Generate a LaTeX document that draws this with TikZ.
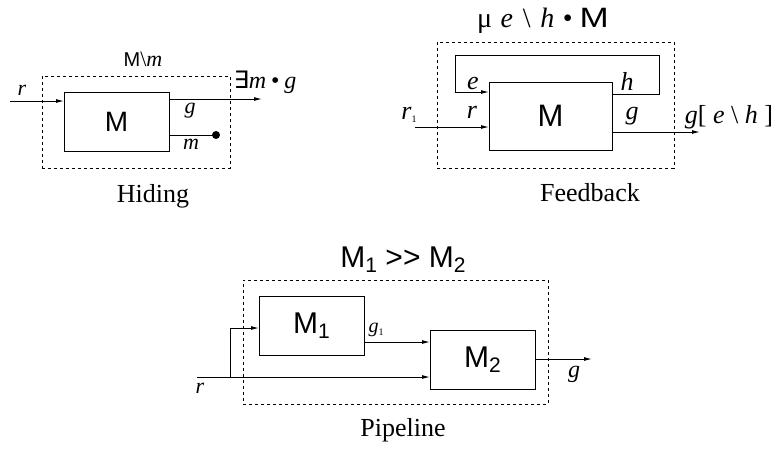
\documentclass[tikz,border=0pt]{standalone}
\usepackage{fontspec}
\setmainfont{Liberation Serif}
\setsansfont{Liberation Sans}
\newfontfamily\symf{DejaVu Sans}
\usetikzlibrary{arrows.meta}
\newcommand\mysub[1]{\raisebox{-0.3ex}{\scalebox{0.7}{#1}}}
\newcommand\tinysub[1]{\raisebox{-0.3ex}{\fontsize{5}{6}\selectfont\upshape #1}}
\newcommand\fs[1]{\fontsize{#1}{#1}\selectfont}
\begin{document}
\begin{tikzpicture}[x=0.5pt,y=-0.5pt,
  every node/.style={inner sep=0pt,outer sep=0pt},
  mbox/.style={draw,line width=0.5pt,font=\sffamily\fs{14}},
  frame/.style={draw,dashed,dash pattern=on 1.5pt off 1.5pt,line width=0.5pt},
  wire/.style={line width=0.5pt},
  arr/.style={wire,-{Latex[length=4pt,width=2pt]}},
  lab/.style={font=\fs{11}\itshape},
  flab/.style={font=\fs{13}\itshape},
  captxt/.style={font=\fs{13}}]
\useasboundingbox (0,0) rectangle (776,452);

% ---------- Hiding ----------
\node[frame,minimum width=94pt,minimum height=46pt] (hframe) at (136,122) {};
\node[mbox,minimum width=52.5pt,minimum height=29.5pt] (hM) at (116.5,121.5) {M};
\coordinate (hr) at (10,101);
\coordinate (hg) at (262,99);
\coordinate (hm) at (216,135);
\draw[arr] (hr) -- (hr -| hM.west);
\draw[arr] (hg -| hM.east) -- (hg);
\draw[wire] (hm -| hM.east) -- (hm);
\fill (hm) circle (2pt);
\node[font=\fs{11}] (hlab) at (143,59) {\textsf{\fs{10}M}\textbackslash\textit{m}};
\node[lab] (hrl) at (22,90) {r};
\node[lab] (hgl) at (190,111) {g};
\node[lab] (hml) at (191,144) {m};
\node[font=\fs{12}] (hout) at (265,82) {{\symf ∃}\textit{m}\hspace{0.2em}•\hspace{0.2em}\textit{g}};
\node[captxt] (hcap) at (153,196) {Hiding};

% ---------- Feedback ----------
\node[frame,minimum width=118.5pt,minimum height=63pt] (fframe) at (555.5,105) {};
\node[mbox,minimum width=61.5pt,minimum height=34pt,font=\sffamily\fs{15.5}] (fM) at (550.5,116) {M};
\coordinate (fh) at (659,94);
\coordinate (ftop) at (455,55);
\coordinate (fe) at (455,92);
\coordinate (fr) at (415,127);
\coordinate (fg) at (700,132);
\draw[arr] (fh -| fM.east) -- (fh) -- (fh |- ftop) -- (ftop) -- (fe) -- (fe -| fM.west);
\draw[arr] (fr) -- (fr -| fM.west);
\draw[arr] (fg -| fM.east) -- (fg);
\node[font=\fs{14}] (flab) at (543,21) {μ\hspace{0.3em}\textit{e}\hspace{0.35em}\textbackslash\hspace{0.35em}\textit{h}\hspace{0.3em}•\hspace{0.25em}\textsf{\scalebox{1.25}[1]{M}}};
\node[flab] (frl) at (409,115) {r\tinysub{1}};
\node[flab] (frr) at (472,112) {r};
\node[flab] (fel) at (473,83) {e};
\node[flab] (fhl) at (627,81) {h};
\node[flab] (fgl) at (632,116) {g};
\node[font=\fs{13}] (fout) at (729,117) {\textit{g}[ \textit{e} \textbackslash{} \textit{h} ]};
\node[captxt] (fcap) at (590,193) {Feedback};

% ---------- Pipeline ----------
\node[frame,minimum width=152.5pt,minimum height=62pt] (pframe) at (395.5,342) {};
\node[mbox,minimum width=52.5pt,minimum height=29.5pt,font=\sffamily\fs{15}] (pM1) at (311.5,325.5) {M\mysub{1}};
\node[mbox,minimum width=52.5pt,minimum height=29.5pt,font=\sffamily\fs{15}] (pM2) at (482.5,359.5) {M\mysub{2}};
\coordinate (pr) at (197,377);
\coordinate (pb) at (230,377);
\coordinate (pt1) at (230,328);
\coordinate (pg1) at (364,342);
\coordinate (pg) at (592,359);
\draw[arr] (pr) -- (pr -| pM2.west);
\draw[arr] (pb) -- (pt1) -- (pt1 -| pM1.west);
\draw[arr] (pg1 -| pM1.east) -- (pg1 -| pM2.west);
\draw[arr] (pg -| pM2.east) -- (pg);
\node[font=\sffamily\fs{15}] (plab) at (403,260) {M\mysub{1} >{}> M\mysub{2}};
\node[lab] (prl) at (200,388) {r};
\node[font=\fs{10}\itshape] (pgl1) at (376,330) {g\tinysub{1}};
\node[font=\fs{12}\itshape] (pgl) at (574,374) {g};
\node[captxt] (pcap) at (403,430) {Pipeline};
\end{tikzpicture}
\end{document}
